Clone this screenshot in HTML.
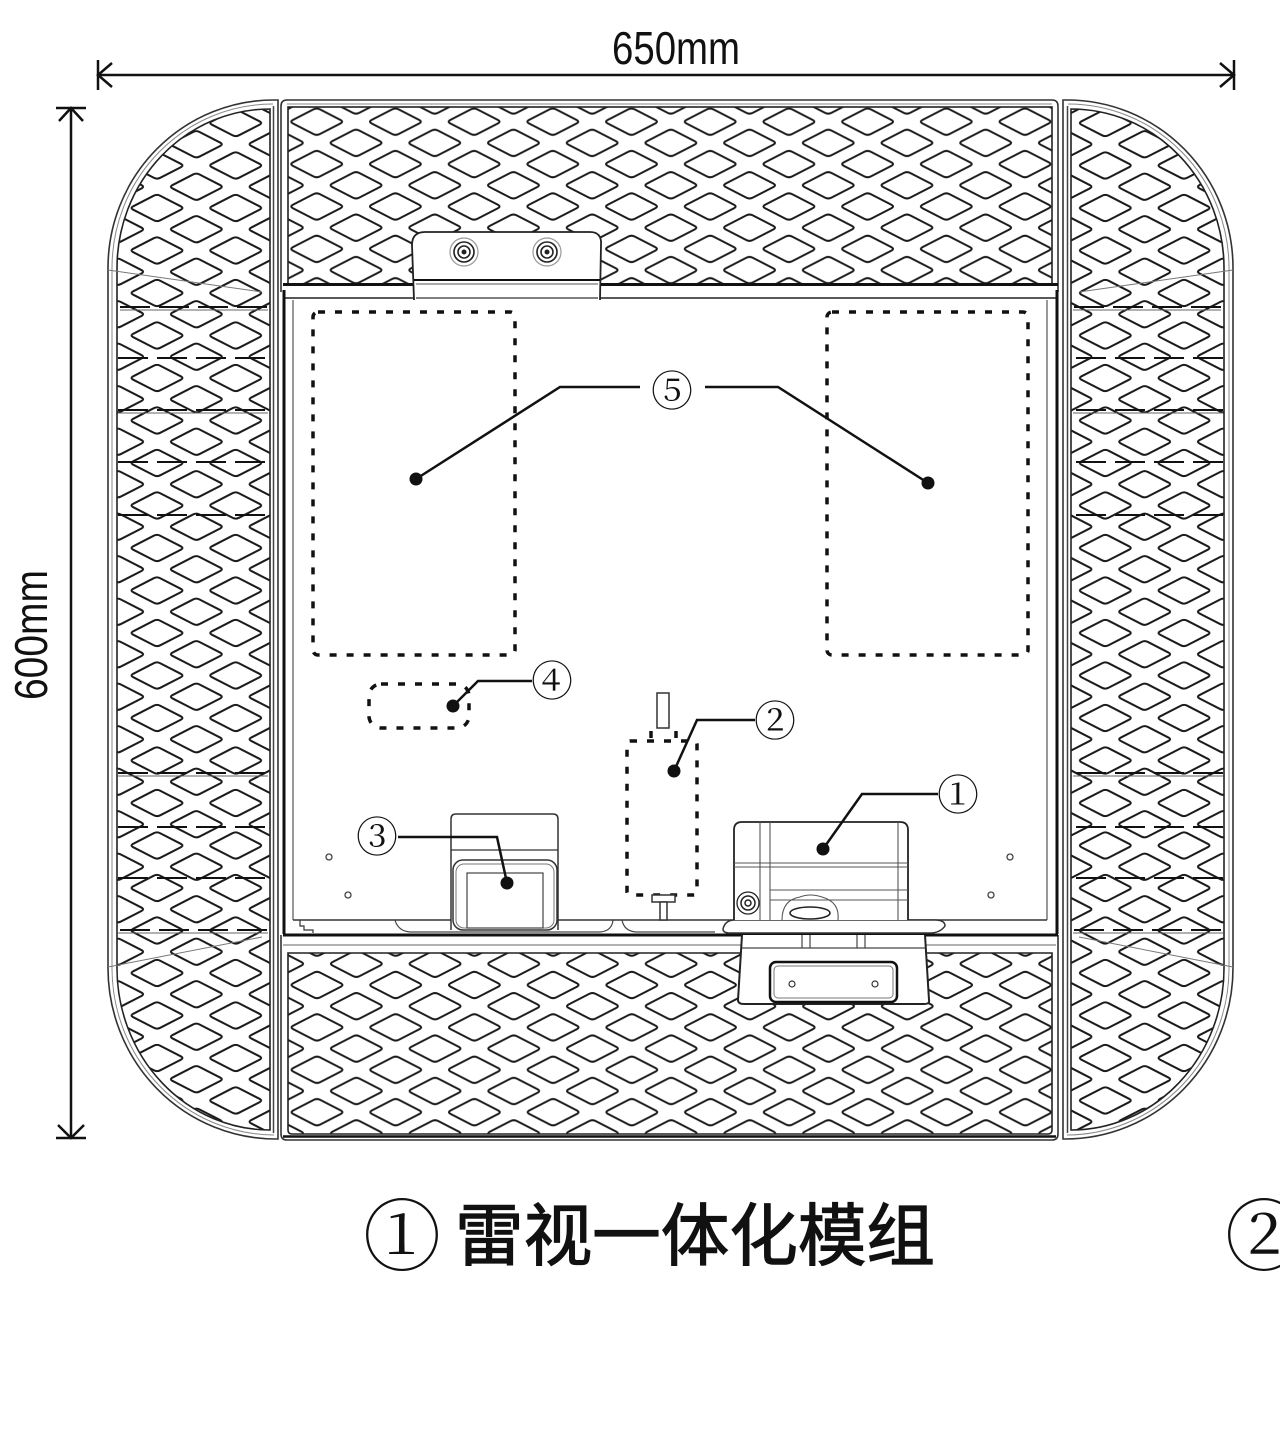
<!DOCTYPE html>
<html><head><meta charset="utf-8"><style>
html,body{margin:0;padding:0;background:#fff;}
svg{display:block;}
.cjk{font-family:"Liberation Serif","Noto Serif CJK SC","Noto Sans CJK SC",serif;}
.lat{font-family:"Liberation Sans",sans-serif;}
</style></head><body>
<svg width="1280" height="1439" viewBox="0 0 1280 1439" xmlns="http://www.w3.org/2000/svg">
<defs>
 <g id="dm"><path d="M-23.8,-1.7 L-3.2,-12.3 Q0,-14 3.2,-12.3 L23.8,-1.7 Q27,0 23.8,1.7 L3.2,12.3 Q0,14 -3.2,12.3 L-23.8,1.7 Q-27,0 -23.8,-1.7Z"/></g>
 <pattern id="pt" patternUnits="userSpaceOnUse" x="316.7" y="121.7" width="78.7" height="42.4">
  <g fill="none" stroke="#1a1a1a" stroke-width="2">
   <use href="#dm" x="0" y="0"/><use href="#dm" x="78.7" y="0"/><use href="#dm" x="0" y="42.4"/><use href="#dm" x="78.7" y="42.4"/><use href="#dm" x="39.35" y="21.2"/>
  </g>
 </pattern>
 <pattern id="pb" patternUnits="userSpaceOnUse" x="317" y="985" width="78.7" height="42.4">
  <g fill="none" stroke="#1a1a1a" stroke-width="2">
   <use href="#dm" x="0" y="0"/><use href="#dm" x="78.7" y="0"/><use href="#dm" x="0" y="42.4"/><use href="#dm" x="78.7" y="42.4"/><use href="#dm" x="39.35" y="21.2"/>
  </g>
 </pattern>
 <pattern id="pl" patternUnits="userSpaceOnUse" x="157" y="123" width="78.7" height="42.5">
  <g fill="none" stroke="#1a1a1a" stroke-width="2">
   <use href="#dm" x="0" y="0"/><use href="#dm" x="78.7" y="0"/><use href="#dm" x="0" y="42.5"/><use href="#dm" x="78.7" y="42.5"/><use href="#dm" x="39.35" y="21.25"/>
  </g>
 </pattern>
 <g id="side">
  <path d="M274,100 A166 168 0 0 0 108,268 V968 A168 171 0 0 0 276,1139 H278 V100 Z" fill="#fff" stroke="#333" stroke-width="1.6"/>
  <path d="M273,104 A161 164 0 0 0 112,268 V968 A163 167 0 0 0 274,1135" fill="none" stroke="#888" stroke-width="1"/>
  <path d="M270,109 A153 159 0 0 0 117,268 V968 A153 162 0 0 0 270,1130 Z" fill="url(#pl)" stroke="#222" stroke-width="1.6"/>
  <line x1="273.5" y1="106" x2="273.5" y2="1133" stroke="#444" stroke-width="1.5"/>
  <path d="M108,270 L262,292 M108,967 L262,937" stroke="#777" stroke-width="1" fill="none"/>
  <g stroke="#111" stroke-width="2" stroke-dasharray="30 9">
   <line x1="120" y1="307" x2="268" y2="307"/><line x1="118" y1="358" x2="268" y2="358"/>
   <line x1="118" y1="410" x2="268" y2="410"/><line x1="118" y1="462" x2="268" y2="462"/>
   <line x1="118" y1="515" x2="268" y2="515"/><line x1="118" y1="773" x2="268" y2="773"/>
   <line x1="118" y1="827" x2="268" y2="827"/><line x1="118" y1="878" x2="268" y2="878"/>
   <line x1="120" y1="930" x2="268" y2="930"/>
  </g>
  <g stroke="#666" stroke-width="1">
   <line x1="120" y1="310" x2="268" y2="310"/><line x1="118" y1="413" x2="268" y2="413"/>
   <line x1="118" y1="776" x2="268" y2="776"/><line x1="118" y1="933" x2="268" y2="933"/>
  </g>
 </g>
</defs>

<rect width="1280" height="1439" fill="#fff"/>

<!-- Dimension lines -->
<g stroke="#111" stroke-width="2.5" fill="none">
 <line x1="98" y1="75" x2="1234" y2="75"/>
 <line x1="98" y1="60" x2="98" y2="90"/><line x1="1234" y1="60" x2="1234" y2="90"/>
 <path d="M112,63 L98,75 L112,87 M1220,63 L1234,75 L1220,87"/>
 <line x1="71" y1="108" x2="71" y2="1138"/>
 <line x1="56" y1="108" x2="86" y2="108"/><line x1="56" y1="1138" x2="86" y2="1138"/>
 <path d="M59,121 L71,108 L83,121 M58,1125 L71,1138 L84,1125"/>
</g>
<text class="lat" x="612" y="64" font-size="46" textLength="128" lengthAdjust="spacingAndGlyphs" fill="#111">650mm</text>
<text class="lat" transform="translate(47,700) rotate(-90)" x="0" y="0" font-size="46" textLength="130" lengthAdjust="spacingAndGlyphs" fill="#111">600mm</text>

<!-- side panels -->
<use href="#side"/>
<use href="#side" transform="translate(1341,0) scale(-1,1)"/>

<!-- top panel -->
<path d="M281,292 V106 Q281,100 287,100 H1052 Q1058,100 1058,106 V292" fill="#fff" stroke="#333" stroke-width="1.6"/>
<line x1="287" y1="104" x2="1052" y2="104" stroke="#888" stroke-width="1"/>
<rect x="288" y="107" width="764" height="177" fill="url(#pt)" stroke="#222" stroke-width="1.6"/>
<line x1="283" y1="284.5" x2="1058" y2="284.5" stroke="#111" stroke-width="3"/>

<!-- bottom panel -->
<path d="M281,935 V1134 Q281,1140 287,1140 H1052 Q1058,1140 1058,1134 V935" fill="#fff" stroke="#333" stroke-width="1.6"/>
<line x1="283" y1="945" x2="1056" y2="945" stroke="#666" stroke-width="1"/>
<path d="M288,953 H1052 V1130 Q1052,1134 1048,1134 H292 Q288,1134 288,1130 Z" fill="url(#pb)" stroke="#222" stroke-width="1.6"/>
<line x1="283" y1="1136.5" x2="1056" y2="1136.5" stroke="#111" stroke-width="2.5"/>

<!-- inner panel -->
<rect x="283" y="292" width="775" height="642" fill="#fff"/>
<line x1="283" y1="298" x2="1058" y2="298" stroke="#222" stroke-width="1.6"/>
<line x1="284" y1="290" x2="284" y2="934" stroke="#111" stroke-width="3"/>
<line x1="293" y1="300" x2="293" y2="920" stroke="#555" stroke-width="1.2"/>
<line x1="1057" y1="290" x2="1057" y2="934" stroke="#111" stroke-width="3"/>
<line x1="1047" y1="300" x2="1047" y2="920" stroke="#555" stroke-width="1.2"/>
<line x1="293" y1="920" x2="1047" y2="920" stroke="#333" stroke-width="1.5"/>
<path d="M395,920 Q398,931 410,932 H600 Q612,931 613,920 M622,920 Q624,931 636,932 H715" fill="none" stroke="#444" stroke-width="1.2"/>
<path d="M300,920 V926 H304 V930 H313 V933" fill="none" stroke="#333" stroke-width="1.2"/>
<line x1="283" y1="935" x2="1058" y2="935" stroke="#111" stroke-width="3"/>

<!-- top bracket -->
<path d="M414,300 L412,245 Q412,232 425,232 H590 Q602,232 601,245 L600,300" fill="#fff" stroke="#222" stroke-width="1.8"/>
<line x1="414" y1="280" x2="600" y2="280" stroke="#111" stroke-width="2"/>
<line x1="416" y1="284" x2="598" y2="284" stroke="#555" stroke-width="1"/>
<line x1="416" y1="298" x2="598" y2="298" stroke="#333" stroke-width="1.3"/>
<g fill="none" stroke="#222">
 <circle cx="464" cy="252" r="14" stroke="#999" stroke-width="1.2"/>
 <circle cx="464" cy="252" r="10" stroke-width="1.6"/>
 <circle cx="464" cy="252" r="6" stroke-width="1.6"/>
 <circle cx="547" cy="252" r="14" stroke="#999" stroke-width="1.2"/>
 <circle cx="547" cy="252" r="10" stroke-width="1.6"/>
 <circle cx="547" cy="252" r="6" stroke-width="1.6"/>
</g>
<circle cx="464" cy="252" r="2.5" fill="#222"/><circle cx="547" cy="252" r="2.5" fill="#222"/>

<!-- dashed regions -->
<g fill="none" stroke="#111" stroke-width="3.5" stroke-dasharray="7 10">
 <rect x="313" y="312" width="202" height="343" rx="5"/>
 <rect x="827" y="312" width="201" height="343" rx="5"/>
 <rect x="369" y="684" width="100" height="44" rx="12"/>
 <rect x="627" y="741" width="70" height="154" rx="3"/>
 <path d="M651,738 V731 M676,738 V731"/>
</g>
<rect x="657" y="693" width="12" height="35" fill="#fff" stroke="#333" stroke-width="1.5"/>
<rect x="652" y="895" width="23" height="7" fill="#fff" stroke="#333" stroke-width="1.5"/>
<rect x="660" y="902" width="7" height="18" fill="#fff" stroke="#333" stroke-width="1.5"/>

<!-- component 3 -->
<path d="M451,930 V819 Q451,814 456,814 H553 Q558,814 558,819 V930" fill="#fff" stroke="#333" stroke-width="1.5"/>
<line x1="451" y1="850" x2="558" y2="850" stroke="#333" stroke-width="1.3"/>
<rect x="453" y="860" width="104" height="70" rx="10" fill="#fff" stroke="#333" stroke-width="1.5"/>
<rect x="456" y="864" width="98" height="64" rx="8" fill="none" stroke="#777" stroke-width="1"/>
<rect x="467" y="873" width="76" height="55" fill="none" stroke="#444" stroke-width="1.2"/>

<!-- component 1 -->
<path d="M723,929 Q725,920 735,920 H935 Q945,920 945,926 Q940,933 930,933 H730 Q723,933 723,929 Z" fill="#fff" stroke="#333" stroke-width="1.5"/>
<path d="M734,920 V830 Q734,822 742,822 H900 Q908,822 908,830 V920" fill="#fff" stroke="#222" stroke-width="1.8"/>
<g stroke="#555" stroke-width="1.1" fill="none">
 <line x1="760" y1="822" x2="760" y2="920"/><line x1="770" y1="822" x2="770" y2="920"/>
 <line x1="898" y1="822" x2="898" y2="920"/>
 <line x1="734" y1="863" x2="908" y2="863"/><line x1="734" y1="867" x2="908" y2="867"/>
 <line x1="770" y1="890" x2="908" y2="890"/><line x1="770" y1="900" x2="908" y2="900"/>
 <path d="M782,920 Q782,900 800,897 Q810,893 822,897 Q840,902 838,920"/>
</g>
<ellipse cx="810" cy="913" rx="20" ry="6" fill="#fff" stroke="#222" stroke-width="1.6"/>
<g fill="none" stroke="#222">
 <circle cx="748" cy="903" r="11" stroke-width="1.3"/>
 <circle cx="748" cy="903" r="7" stroke-width="1.5"/>
 <circle cx="748" cy="903" r="3" stroke-width="1.5"/>
</g>
<path d="M742,935 L738,1000 Q738,1004 744,1004 H924 Q930,1004 929,1000 L925,935" fill="#fff" stroke="#222" stroke-width="2"/>
<line x1="742" y1="948" x2="925" y2="948" stroke="#444" stroke-width="1.2"/>
<g stroke="#444" stroke-width="1.2">
 <line x1="802" y1="935" x2="802" y2="948"/><line x1="810" y1="935" x2="810" y2="948"/>
 <line x1="857" y1="935" x2="857" y2="948"/><line x1="865" y1="935" x2="865" y2="948"/>
</g>
<rect x="770" y="962" width="127" height="40" rx="6" fill="#fff" stroke="#111" stroke-width="2.5"/>
<rect x="774" y="966" width="119" height="32" rx="4" fill="none" stroke="#777" stroke-width="1"/>
<circle cx="792" cy="984" r="3" fill="none" stroke="#333" stroke-width="1.2"/>
<circle cx="875" cy="984" r="3" fill="none" stroke="#333" stroke-width="1.2"/>

<!-- small holes -->
<g fill="none" stroke="#444" stroke-width="1.3">
 <circle cx="329" cy="857" r="3"/><circle cx="348" cy="895" r="3"/>
 <circle cx="1010" cy="857" r="3"/><circle cx="991" cy="895" r="3"/>
</g>

<!-- callout leaders -->
<g fill="none" stroke="#111" stroke-width="2.5">
 <path d="M640,387 H560 L416,479"/>
 <path d="M705,387 H778 L928,483"/>
 <path d="M453,706 L478,681 H532"/>
 <path d="M674,771 L697,720 H755"/>
 <path d="M507,883 L497,837 H398"/>
 <path d="M823,849 L862,794 H938"/>
</g>
<g fill="#111">
 <circle cx="416" cy="479" r="6.5"/><circle cx="928" cy="483" r="6.5"/>
 <circle cx="453" cy="706" r="6.5"/><circle cx="674" cy="771" r="6.5"/>
 <circle cx="507" cy="883" r="6.5"/><circle cx="823" cy="849" r="6.5"/>
</g>
<g class="cjk" font-size="42" text-anchor="middle" fill="#111">
 <text x="672" y="406">⑤</text>
 <text x="552" y="696">④</text>
 <text x="775" y="736">②</text>
 <text x="377" y="852">③</text>
 <text x="958" y="810">①</text>
</g>

<!-- caption -->
<text class="cjk" x="363" y="1264" font-size="78" fill="#111">①</text>
<text x="455" y="1260" font-size="68" textLength="480" lengthAdjust="spacingAndGlyphs" fill="#111" stroke="#111" stroke-width="1.2" style='font-family:"Liberation Sans","Noto Sans CJK SC",sans-serif;'>雷视一体化模组</text>
<text class="cjk" x="1225" y="1264" font-size="78" fill="#111">②</text>
</svg>
</body></html>
